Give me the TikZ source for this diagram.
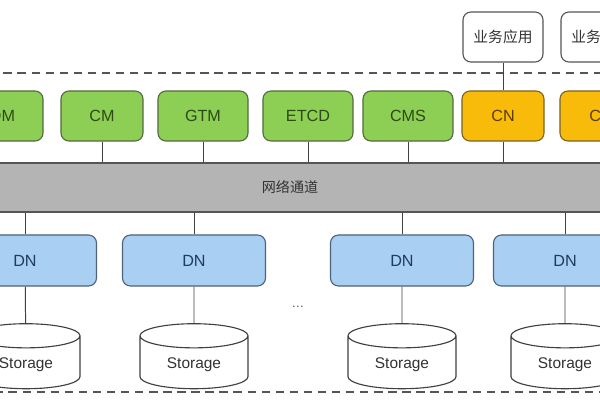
\documentclass[tikz,border=0pt]{standalone}
\usepackage{fontspec}
\setmainfont{Liberation Sans}
\newfontfamily\cjk{Noto Sans CJK SC}
\usetikzlibrary{shapes.geometric}
\definecolor{verde}{HTML}{8DCE55}
\definecolor{verdeb}{HTML}{56693E}
\definecolor{verdet}{HTML}{2E4A16}
\definecolor{laranja}{HTML}{F8BB0A}
\definecolor{laranjab}{HTML}{7A6326}
\definecolor{laranjat}{HTML}{5A3C00}
\definecolor{azul}{HTML}{A9CFF2}
\definecolor{azulb}{HTML}{4E6378}
\definecolor{azult}{HTML}{1E3D5C}
\definecolor{cinza}{HTML}{B4B4B4}
\definecolor{traco}{HTML}{555555}
\tikzset{
  caixa/.style={draw, rounded corners=0.2cm, line width=0.8pt, minimum height=1.25cm,
    font=\fontsize{11.5}{13}\selectfont},
  gestao/.style={caixa, fill=verde, draw=verdeb, text=verdet, minimum width=2.25cm},
  coord/.style={caixa, fill=laranja, draw=laranjab, text=laranjat, minimum width=2.05cm},
  app/.style={caixa, fill=white, draw=traco, text=black!80, minimum width=2cm,
    font=\cjk\fontsize{10.5}{12}\selectfont},
  dado/.style={caixa, fill=azul, draw=azulb, text=azult, minimum width=3.575cm, minimum height=1.275cm},
  disco/.style={cylinder, shape border rotate=90, aspect=0.38, draw=black!75, fill=white,
    line width=0.8pt, minimum width=2.7cm, minimum height=1.625cm, text=black!80,
    font=\fontsize{11}{13}\selectfont},
  fio/.style={draw=black!75, line width=0.7pt}
}
\begin{document}
\begin{tikzpicture}[x=0.025cm, y=-0.025cm]
\useasboundingbox (0,0) rectangle (600,400);
\clip (0,0) rectangle (600,400);
% moldura tracejada
\draw[traco, line width=1.2pt, dash pattern=on 6pt off 4pt] (-10,73) rectangle (610,392);
% aplicacoes
\node[app] (app1) at (503,37) {业务应用};
\node[app] (app2) at (601,37) {业务应用};
% componentes de gestao
\node[gestao, minimum width=2.05cm] (om) at (2,116) {OM};
\node[gestao, minimum width=2.05cm] (cm) at (102,116) {CM};
\node[gestao] (gtm) at (203,116) {GTM};
\node[gestao] (etcd) at (308,116) {ETCD};
\node[gestao] (cms) at (408,116) {CMS};
\node[coord] (cn1) at (503,116) {CN};
\node[coord] (cn2) at (601,116) {CN};
% rede
\node[draw=traco, fill=cinza, line width=0.8pt, minimum width=15.75cm, minimum height=1.225cm,
  font=\cjk\fontsize{10}{12}\selectfont, text=black!80] (rede) at (290,187.5) {网络通道};
% nos de dados
\node[dado] (dn1) at (25,260.5) {DN};
\node[dado] (dn2) at (194,260.5) {DN};
\node[dado] (dn3) at (402,260.5) {DN};
\node[dado] (dn4) at (565,260.5) {DN};
\node[text=black!70, font=\small] (dots) at (298,307) {\dots};
% armazenamento
\node[disco] (st1) at (26,365) {Storage};
\node[disco] (st2) at (194,365) {Storage};
\node[disco] (st3) at (402,365) {Storage};
\node[disco] (st4) at (565,365) {Storage};
% ligacoes
\draw[fio] (app1) -- (cn1);
\foreach \n in {cm,gtm,etcd,cms,cn1}
  \draw[fio] (\n) -- (\n |- rede.north);
\foreach \i in {1,...,4} {
  \draw[fio] (rede.south -| dn\i) -- (dn\i);
  \draw[fio] (dn\i) -- (st\i);
}
\end{tikzpicture}
\end{document}
